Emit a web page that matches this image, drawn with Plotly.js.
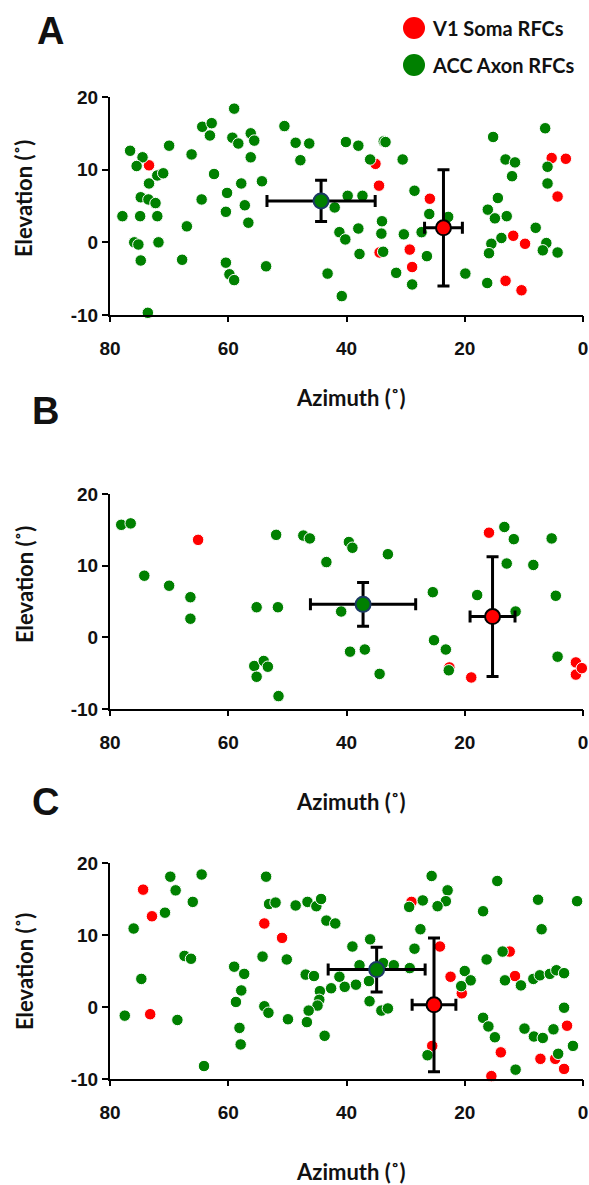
<!DOCTYPE html>
<html>
<head>
<meta charset="utf-8">
<script src="https://cdn.plot.ly/plotly-3.0.1.min.js"></script>
<style>html,body{margin:0;padding:0;background:#fff;}#chart{width:589px;height:1185px;}</style>
</head>
<body>
<div id="chart"></div>
<script>
// ---------- Data (azimuth °, elevation °) ----------
const xTicks = [80, 60, 40, 20, 0];
const xTickText = ["80", "60", "40", "20", "0"];
const yTicks = [-10, 0, 10, 20];
const yTickText = ["-10", "0", "10", "20"];
const panelLabels = ["A", "B", "C"];
const seriesNames = ["V1 Soma RFCs", "ACC Axon RFCs"];
const xTitle = "Azimuth (˚)";
const yTitle = "Elevation (˚)";

// Panel A
const aRedAz = [73.4, 35.1, 34.5, 34.4, 29.3, 28.9, 25.9, 11.8, 9.8, 13.1, 10.4, 5.3, 2.9, 4.3];
const aRedEl = [10.6, 10.8, 7.8, -1.4, -1.0, -3.4, 6.0, 0.9, -0.2, -5.3, -6.6, 11.6, 11.5, 6.3];
const aGreenAz = [76.6, 74.5, 75.5, 72.0, 71.0, 73.4, 74.8, 73.5, 72.3, 77.9, 74.9, 72.0, 75.9, 75.2, 71.8, 74.8, 73.6, 70.0, 67.8, 67.0,
  66.2, 64.5, 64.4, 62.8, 63.1, 62.4, 59.0, 59.3, 58.3, 56.2, 55.6, 56.2, 60.2, 57.8, 60.4, 57.2, 56.6, 54.3, 60.4, 59.8,
  59.0, 53.6, 50.5, 48.6, 46.3, 47.8, 40.1, 38.0, 33.7, 33.4, 36.0, 30.5, 39.8, 37.3, 42.0, 41.2, 40.2, 38.0, 37.8, 34.0,
  34.1, 33.8, 43.2, 40.8, 30.3, 31.6, 28.9, 28.5, 26.0, 27.3, 26.4, 22.8, 19.9, 15.2, 13.1, 11.5, 12.0, 14.4, 16.1, 14.9,
  12.9, 13.8, 15.5, 15.9, 16.2, 6.4, 6.0, 6.0, 8.0, 6.2, 6.8, 4.3];
const aGreenEl = [12.6, 11.7, 10.5, 9.2, 9.5, 8.1, 6.2, 5.9, 5.4, 3.6, 3.6, 3.6, 0.0, -0.3, 0.0, -2.5, -9.7, 13.3, -2.4, 2.2,
  12.1, 5.9, 15.9, 16.4, 14.7, 9.4, 18.4, 14.4, 13.6, 15.0, 14.0, 11.7, 6.8, 8.1, 4.2, 5.1, 2.7, 8.4, -2.8, -4.4,
  -5.2, -3.3, 16.0, 13.7, 13.6, 11.3, 13.8, 13.3, 13.9, 13.8, 11.4, 11.4, 6.4, 6.4, 4.8, 1.4, 0.4, 1.9, -1.6, 2.9,
  1.2, -1.3, -4.3, -7.4, 1.1, -4.2, -5.8, 7.1, 3.9, 1.4, -1.9, 3.5, -4.3, 14.5, 11.4, 11.0, 9.1, 6.1, 4.5, 3.3,
  3.6, 0.6, -0.2, -1.5, -5.6, 15.7, 10.4, 8.1, 2.0, -0.1, -1.1, -1.4];
// means and errors: [az, el, azErr, elErr]
const aGreenMean = [44.3, 5.7, 9.15, 2.85];
const aRedMean = [23.6, 2.0, 3.2, 8.0];

// Panel B
const bRedAz = [65.1, 22.6, 18.9, 15.9, 1.2, 1.2, 0.2];
const bRedEl = [13.6, -4.2, -5.6, 14.6, -3.5, -5.2, -4.3];
const bGreenAz = [78.1, 76.5, 74.2, 70.0, 66.4, 66.4, 51.9, 55.2, 51.6, 55.6, 54.0, 53.3, 55.2, 51.5, 47.3, 46.2, 39.6, 39.0, 43.4, 33.0,
  40.9, 39.4, 36.9, 34.4, 25.4, 25.2, 23.2, 22.7, 13.3, 11.7, 5.3, 12.9, 8.4, 17.9, 4.6, 11.4, 4.3];
const bGreenEl = [15.7, 15.9, 8.6, 7.2, 5.6, 2.6, 14.3, 4.2, 4.2, -4.0, -3.3, -4.1, -5.5, -8.2, 14.2, 13.8, 13.3, 12.5, 10.5, 11.6,
  3.6, -2.0, -1.7, -5.1, 6.3, -0.4, -1.7, -4.6, 15.4, 13.7, 13.8, 10.3, 10.1, 5.9, 5.8, 3.6, -2.7];
const bGreenMean = [37.2, 4.6, 8.9, 3.05];
const bRedMean = [15.3, 2.9, 3.8, 8.35];

// Panel C
const cRedAz = [74.4, 72.9, 73.2, 53.9, 50.9, 29.0, 24.2, 22.4, 20.5, 25.5, 13.9, 15.5, 12.4, 11.5, 2.7, 4.7, 7.2, 3.2];
const cRedEl = [16.3, 12.6, -1.0, 11.6, 9.6, 14.6, 8.4, 4.2, 1.9, -5.4, -6.3, -9.6, 7.7, 4.3, -2.6, -7.2, -7.2, -8.6];
const cGreenAz = [76.0, 74.7, 77.5, 69.8, 68.9, 70.7, 64.5, 66.0, 67.4, 66.3, 68.6, 64.1, 59.0, 57.3, 57.8, 58.7, 58.1, 57.9, 53.6, 53.1,
  52.0, 48.6, 54.2, 50.1, 53.9, 53.2, 49.9, 46.6, 45.1, 44.3, 43.4, 41.9, 39.0, 36.0, 46.9, 45.5, 41.2, 44.5, 42.6, 40.3,
  38.4, 36.2, 37.8, 33.8, 32.0, 29.3, 28.5, 27.5, 44.6, 44.9, 46.4, 46.7, 43.7, 36.1, 34.1, 33.0, 29.4, 27.1, 25.6, 22.9,
  23.2, 24.6, 20.0, 19.0, 20.6, 26.3, 16.9, 16.0, 14.9, 11.4, 14.5, 16.9, 16.3, 13.6, 13.2, 10.5, 7.6, 7.0, 1.0, 8.4,
  7.3, 5.6, 4.5, 3.2, 3.2, 9.9, 8.3, 6.8, 5.0, 1.7, 4.2];
const cGreenEl = [10.9, 3.9, -1.2, 18.1, 16.2, 13.1, 18.4, 14.6, 7.1, 6.7, -1.8, -8.2, 5.6, 4.6, 2.3, 0.7, -2.9, -5.2, 18.1, 14.3,
  14.5, 14.1, 7.0, 6.6, 0.1, -0.8, -1.7, 14.6, 14.0, 15.0, 12.0, 11.6, 8.4, 9.4, 4.5, 4.3, 4.2, 2.2, 2.6, 2.8,
  3.1, 3.6, 5.8, 6.1, 5.8, 5.4, 8.1, 10.8, 1.0, 0.2, -0.5, -2.1, -4.0, 0.8, -0.5, -0.2, 13.9, 14.8, 18.2, 16.2,
  14.7, 14.0, 5.0, 3.7, 2.9, -6.7, -1.5, -2.7, -4.2, -8.7, 17.5, 13.3, 6.6, 7.7, 3.7, 3.0, 14.9, 10.8, 14.7, 3.9,
  4.4, 4.6, 5.1, 4.7, -0.1, -3.0, -4.1, -4.3, -3.1, -5.4, -6.5];
const cGreenMean = [34.9, 5.2, 8.2, 3.1];
const cRedMean = [25.2, 0.3, 3.7, 9.3];

// ---------- Build ----------
const RED = "#ff0000", GREEN = "#008000";
const W = 589, H = 1185, ML = 110, MR = 6;
const PW = W - ML - MR;
// plot-area pixel boxes [top, bottom]
const boxes = [[97, 315], [494, 709], [863, 1079]];
const letterPos = [[50, 31], [45, 411], [45, 802]];
const xTitleY = [397, 801, 1171];
const yTitleY = [199, 585, 972];
const py = p => 1 - p / H;
const px = p => (p - ML) / PW;

const panels = [
  {rAz: aRedAz, rEl: aRedEl, gAz: aGreenAz, gEl: aGreenEl, gM: aGreenMean, rM: aRedMean},
  {rAz: bRedAz, rEl: bRedEl, gAz: bGreenAz, gEl: bGreenEl, gM: bGreenMean, rM: bRedMean},
  {rAz: cRedAz, rEl: cRedEl, gAz: cGreenAz, gEl: cGreenEl, gM: cGreenMean, rM: cRedMean}
];

const traces = [];
const layout = {
  width: W, height: H,
  margin: {l: ML, r: MR, t: 0, b: 0},
  paper_bgcolor: "#fff", plot_bgcolor: "rgba(0,0,0,0)",
  showlegend: false,
  annotations: [], shapes: []
};
const tickFont = {family: "Liberation Sans, Arial, sans-serif", size: 19, color: "#111", weight: 700};
const titleFont = {family: "Lato, Open Sans, sans-serif", size: 22, color: "#111", weight: 700};

function errBar(v) {
  return {type: "data", array: [v], visible: true, color: "#000", thickness: 3, width: 6};
}

panels.forEach((p, i) => {
  const n = i === 0 ? "" : String(i + 1);
  const xa = "x" + n, ya = "y" + n;
  const common = {type: "scatter", mode: "markers", xaxis: xa, yaxis: ya, cliponaxis: false, hoverinfo: "skip"};
  traces.push(Object.assign({}, common, {x: p.rAz, y: p.rEl, name: seriesNames[0],
    marker: {color: RED, size: 11.5, line: {color: "#fff", width: 1}}}));
  traces.push(Object.assign({}, common, {x: p.gAz, y: p.gEl, name: seriesNames[1],
    marker: {color: GREEN, size: 11.5, line: {color: "#fff", width: 1}}}));
  traces.push(Object.assign({}, common, {x: [p.gM[0]], y: [p.gM[1]],
    error_x: errBar(p.gM[2]), error_y: errBar(p.gM[3]),
    marker: {color: GREEN, size: 15, line: {color: "#1b3a63", width: 2}}}));
  traces.push(Object.assign({}, common, {x: [p.rM[0]], y: [p.rM[1]],
    error_x: errBar(p.rM[2]), error_y: errBar(p.rM[3]),
    marker: {color: RED, size: 15, line: {color: "#000", width: 2}}}));

  const [top, bot] = boxes[i];
  // main x axis: carries the tick labels (long, invisible ticks push the labels down)
  layout["xaxis" + n] = {
    domain: [0, 1], anchor: ya, range: [80, 0], tickvals: xTicks, ticktext: xTickText,
    showline: true, linecolor: "#000", linewidth: 2,
    ticks: "outside", ticklen: 15, tickwidth: 2, tickcolor: "rgba(0,0,0,0)",
    showgrid: false, zeroline: false, tickfont: tickFont, fixedrange: true
  };
  // overlay x axis: draws the short visible tick marks
  const on = String(i + 4);
  layout["xaxis" + on] = {
    overlaying: xa, anchor: ya, side: "bottom", range: [80, 0], tickvals: xTicks,
    showline: false, showticklabels: false,
    ticks: "outside", ticklen: 6, tickwidth: 2, tickcolor: "#000",
    showgrid: false, zeroline: false, fixedrange: true
  };
  layout["yaxis" + n] = {
    domain: [py(bot), py(top)], anchor: xa, range: [-10, 20], tickvals: yTicks, ticktext: yTickText,
    showline: true, linecolor: "#000", linewidth: 2,
    ticks: "outside", ticklen: 6, tickwidth: 2, tickcolor: "#000",
    showgrid: false, zeroline: false, tickfont: tickFont, fixedrange: true
  };
  // dummy trace so the overlay axis is drawn
  traces.push({type: "scatter", mode: "markers", x: [], y: [], xaxis: "x" + on, yaxis: ya, hoverinfo: "skip", showlegend: false});

  // panel letter
  layout.annotations.push({text: panelLabels[i], xref: "paper", yref: "paper",
    x: px(letterPos[i][0]), y: py(letterPos[i][1]), xanchor: "center", yanchor: "middle", showarrow: false,
    font: {family: "Liberation Sans, Arial, sans-serif", size: 38, color: "#111", weight: 700}});
  // x title
  layout.annotations.push({text: xTitle, xref: "paper", yref: "paper",
    x: px(351), y: py(xTitleY[i]), xanchor: "center", yanchor: "middle", showarrow: false, font: titleFont});
  // y title
  layout.annotations.push({text: yTitle, xref: "paper", yref: "paper",
    x: px(24), y: py(yTitleY[i]), xanchor: "center", yanchor: "middle", textangle: -90,
    showarrow: false, font: titleFont});
});

// legend (manual)
const legendRows = [{name: seriesNames[0], color: RED, y: 28}, {name: seriesNames[1], color: GREEN, y: 65}];
legendRows.forEach(r => {
  layout.shapes.push({type: "circle", xref: "paper", yref: "paper",
    x0: px(403), x1: px(425), y0: py(r.y + 11), y1: py(r.y - 11),
    fillcolor: r.color, line: {color: r.color, width: 0}});
  layout.annotations.push({text: r.name, xref: "paper", yref: "paper",
    x: px(430), y: py(r.y), xanchor: "left", yanchor: "middle", showarrow: false,
    font: {family: "Lato, Open Sans, sans-serif", size: 20, color: "#111", weight: 700}});
});

Plotly.newPlot("chart", traces, layout, {staticPlot: true, displayModeBar: false});
</script>
</body>
</html>
